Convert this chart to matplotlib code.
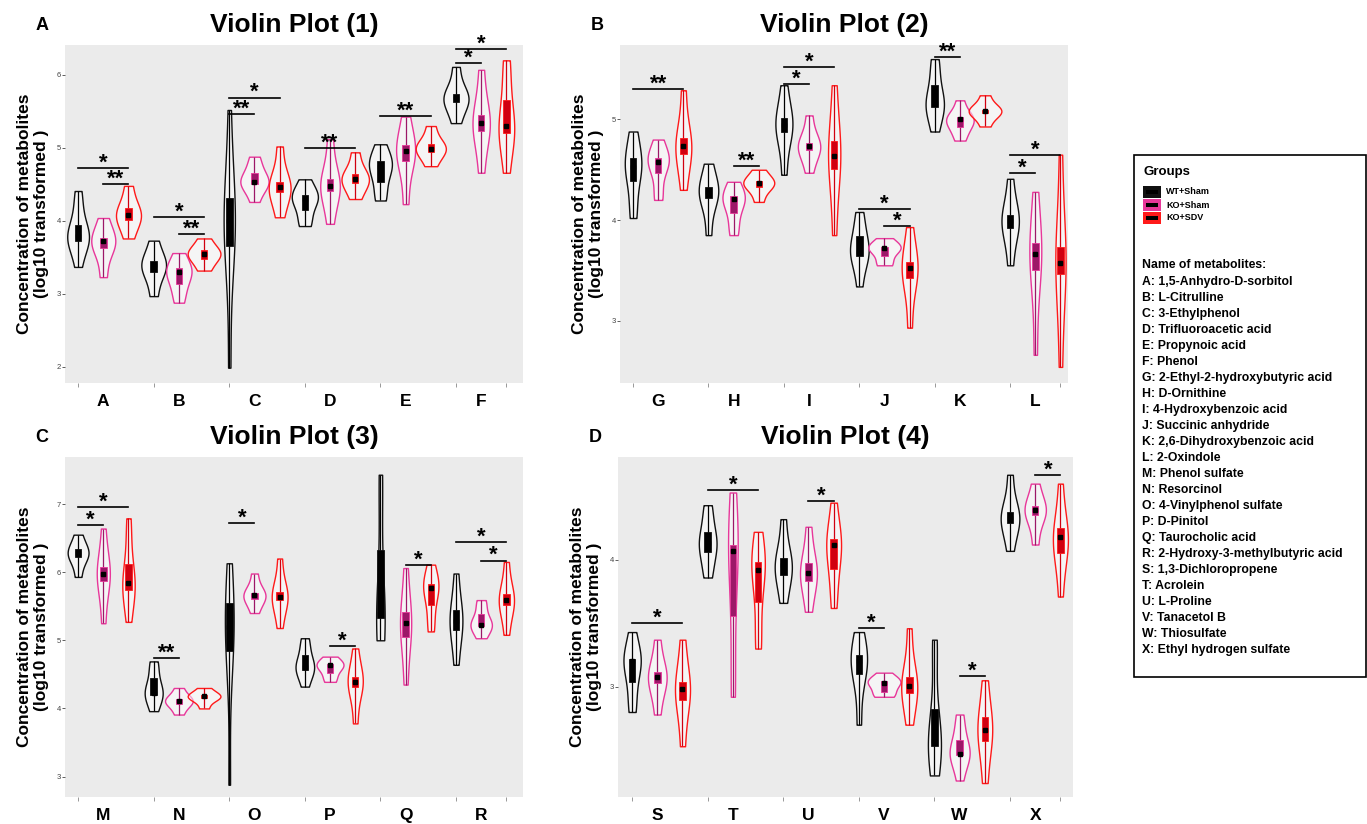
import numpy as np
import matplotlib
matplotlib.use('Agg')
from matplotlib import pyplot as plt
from matplotlib import cbook, mlab
from matplotlib.patches import Rectangle

plt.rcParams['font.family'] = ['Liberation Sans', 'DejaVu Sans']

groups = ['WT+Sham', 'KO+Sham', 'KO+SDV']
line_colors = ['#111111', '#e8379a', '#ff1a1a']
box_colors = ['#000000', '#9c1868', '#d00010']

names = ['1,5-Anhydro-D-sorbitol', 'L-Citrulline', '3-Ethylphenol', 'Trifluoroacetic acid',
         'Propynoic acid', 'Phenol', '2-Ethyl-2-hydroxybutyric acid', 'D-Ornithine',
         '4-Hydroxybenzoic acid', 'Succinic anhydride', '2,6-Dihydroxybenzoic acid', '2-Oxindole',
         'Phenol sulfate', 'Resorcinol', '4-Vinylphenol sulfate', 'D-Pinitol', 'Taurocholic acid',
         '2-Hydroxy-3-methylbutyric acid', '1,3-Dichloropropene', 'Acrolein', 'L-Proline',
         'Tanacetol B', 'Thiosulfate', 'Ethyl hydrogen sulfate']
letters = [chr(ord('A') + i) for i in range(24)]

# log10 concentrations, one list per metabolite
p1_wt = [[3.37, 3.68, 3.74, 3.78, 3.82, 3.87, 4.18, 4.41],
         [2.97, 3.28, 3.37, 3.42, 3.46, 3.73],
         [1.99, 3.52, 3.7, 3.9, 4.1, 4.23, 4.54, 5.52],
         [3.93, 4.03, 4.28, 4.3, 4.33, 4.39, 4.57],
         [4.28, 4.39, 4.68, 4.74, 4.8, 4.84, 5.05],
         [5.34, 5.61, 5.66, 5.7, 5.75, 6.11]]
p1_ko = [[3.23, 3.6, 3.7, 3.74, 3.78, 4.04],
         [2.88, 3.04, 3.22, 3.3, 3.32, 3.39, 3.56],
         [4.26, 4.48, 4.52, 4.53, 4.57, 4.73, 4.88],
         [3.96, 4.39, 4.47, 4.48, 4.61, 5.12],
         [4.23, 4.8, 4.9, 5.02, 5.05, 5.43],
         [4.66, 5.21, 5.3, 5.37, 5.48, 6.07]]
p1_sdv = [[3.76, 3.99, 4.06, 4.1, 4.2, 4.48],
          [3.32, 3.46, 3.54, 3.56, 3.61, 3.76],
          [4.05, 4.37, 4.45, 4.48, 4.55, 5.02],
          [4.3, 4.5, 4.57, 4.58, 4.66, 4.94],
          [4.75, 4.94, 4.98, 5.0, 5.07, 5.3],
          [4.66, 5.18, 5.23, 5.3, 5.36, 5.95, 6.2]]

p2_wt = [[4.02, 4.15, 4.47, 4.52, 4.53, 4.57, 4.76, 4.88],
         [3.85, 4.2, 4.27, 4.28, 4.35, 4.56],
         [4.45, 4.86, 4.93, 4.95, 5.04, 5.34],
         [3.34, 3.62, 3.67, 3.68, 3.75, 3.93, 4.08],
         [4.88, 5.09, 5.15, 5.16, 5.21, 5.47, 5.6],
         [3.55, 3.9, 3.98, 4.0, 4.07, 4.41]]
p2_ko = [[4.2, 4.27, 4.54, 4.57, 4.58, 4.6, 4.68, 4.8],
         [3.85, 3.97, 4.17, 4.21, 4.22, 4.25, 4.38],
         [4.47, 4.68, 4.73, 4.74, 4.78, 5.04],
         [3.55, 3.58, 3.7, 3.72, 3.73, 3.74, 3.82],
         [4.79, 4.88, 4.97, 5.0, 5.01, 5.03, 5.19],
         [2.66, 3.47, 3.62, 3.7, 3.8, 4.28]]
p2_sdv = [[4.3, 4.63, 4.73, 4.74, 4.84, 5.29],
          [4.18, 4.32, 4.36, 4.37, 4.4, 4.5],
          [3.85, 4.46, 4.63, 4.65, 4.83, 5.34],
          [2.93, 3.4, 3.5, 3.54, 3.6, 3.93],
          [4.93, 5.06, 5.08, 5.09, 5.1, 5.24],
          [2.54, 3.44, 3.55, 3.6, 3.77, 4.65]]

p3_wt = [[5.93, 6.2, 6.27, 6.28, 6.35, 6.55],
         [3.96, 4.18, 4.22, 4.23, 4.3, 4.58, 4.69],
         [2.88, 4.7, 4.9, 5.1, 5.3, 5.5, 5.71, 6.13],
         [4.32, 4.54, 4.6, 4.61, 4.66, 4.9, 5.03],
         [5.0, 5.3, 5.35, 5.38, 5.49, 7.16, 7.43],
         [4.64, 5.1, 5.28, 5.3, 5.49, 5.98]]
p3_ko = [[5.25, 5.84, 5.97, 5.98, 6.1, 6.64],
         [3.91, 4.06, 4.1, 4.13, 4.14, 4.3],
         [5.4, 5.6, 5.65, 5.67, 5.71, 5.98],
         [4.39, 4.46, 4.59, 4.63, 4.64, 4.67, 4.76],
         [4.35, 5.0, 5.2, 5.3, 5.45, 6.06],
         [5.03, 5.2, 5.23, 5.23, 5.26, 5.5, 5.59]]
p3_sdv = [[5.27, 5.6, 5.79, 5.84, 5.85, 5.99, 6.5, 6.79],
          [4.0, 4.14, 4.17, 4.18, 4.2, 4.3],
          [5.18, 5.57, 5.63, 5.64, 5.74, 6.2],
          [3.78, 4.3, 4.38, 4.39, 4.49, 4.88],
          [5.13, 5.32, 5.71, 5.77, 5.79, 5.86, 6.11],
          [5.08, 5.49, 5.58, 5.59, 5.7, 6.15]]

p4_wt = [[2.8, 2.92, 3.16, 3.2, 3.2, 3.24, 3.43],
         [3.86, 3.94, 4.1, 4.13, 4.14, 4.17, 4.36, 4.43],
         [3.66, 3.86, 3.95, 3.96, 4.03, 4.32],
         [2.7, 3.08, 3.17, 3.24, 3.25, 3.43],
         [2.3, 2.5, 2.54, 2.55, 2.59, 2.68, 3.25, 3.37],
         [4.07, 4.28, 4.33, 4.33, 4.39, 4.67]]
p4_ko = [[2.78, 3.01, 3.07, 3.08, 3.13, 3.37],
         [2.92, 3.13, 3.99, 4.07, 4.08, 4.16, 4.53],
         [3.59, 3.82, 3.87, 3.92, 3.99, 4.26],
         [2.92, 2.93, 2.97, 3.02, 3.04, 3.04, 3.06, 3.11],
         [2.26, 2.45, 2.47, 2.47, 2.5, 2.66, 2.78],
         [4.12, 4.34, 4.39, 4.39, 4.43, 4.6]]
p4_sdv = [[2.53, 2.87, 2.96, 3.0, 3.05, 3.37],
          [3.3, 3.43, 3.9, 3.92, 3.96, 4.0, 4.22],
          [3.62, 3.82, 4.04, 4.12, 4.13, 4.2, 4.45],
          [2.7, 2.93, 3.0, 3.01, 3.1, 3.46],
          [2.24, 2.54, 2.65, 2.66, 2.79, 3.05],
          [3.71, 4.0, 4.1, 4.18, 4.2, 4.3, 4.6]]

# significance: (metabolite index, group a, group b, bar height, stars)
p1_sig = [(0, 0, 2, 4.73, '*'), (0, 1, 2, 4.51, '**'), (1, 0, 2, 4.05, '*'), (1, 1, 2, 3.82, '**'),
          (2, 0, 2, 5.69, '*'), (2, 0, 1, 5.47, '**'), (3, 0, 2, 5.0, '**'), (4, 0, 2, 5.44, '**'),
          (5, 0, 2, 6.36, '*'), (5, 0, 1, 6.16, '*')]
p2_sig = [(0, 0, 2, 5.3, '**'), (1, 1, 2, 4.54, '**'), (2, 0, 2, 5.52, '*'), (2, 0, 1, 5.35, '*'),
          (3, 0, 2, 4.11, '*'), (3, 1, 2, 3.94, '*'), (4, 0, 1, 5.62, '**'), (5, 0, 2, 4.65, '*'),
          (5, 0, 1, 4.47, '*')]
p3_sig = [(0, 0, 2, 6.95, '*'), (0, 0, 1, 6.69, '*'), (1, 0, 1, 4.74, '**'), (2, 0, 1, 6.72, '*'),
          (3, 1, 2, 4.91, '*'), (4, 1, 2, 6.11, '*'), (5, 0, 2, 6.44, '*'), (5, 1, 2, 6.17, '*')]
p4_sig = [(0, 0, 2, 3.5, '*'), (1, 0, 2, 4.55, '*'), (2, 1, 2, 4.46, '*'), (3, 0, 1, 3.46, '*'),
          (4, 1, 2, 3.08, '*'), (5, 1, 2, 4.67, '*')]

W, H = 1367, 824


def fx(x):
    return x / W


def fy(y):
    return 1 - y / H


def kde(X, coords):
    return mlab.GaussianKDE(X, 'scott').evaluate(coords)


def draw_panel(ax, series, sig, labels, ylim, yticks, xlim):
    data, pos, grp = [], [], []
    for g, s in enumerate(series):
        for m, vals in enumerate(s):
            data.append(np.array(vals))
            pos.append(3 * m + g + 1)
            grp.append(g)
    stats = cbook.violin_stats(data, kde, points=120)
    peak = np.array([s['vals'].max() for s in stats])
    widths = np.clip(1.3 * (peak / peak.max()) ** 0.6, 0.14, None)
    parts = ax.violin(stats, positions=pos, widths=widths, showmeans=False,
                      showextrema=False, showmedians=False)
    for body, g in zip(parts['bodies'], grp):
        body.set_alpha(None)
        body.set_facecolor((1, 1, 1, 0.5))
        body.set_edgecolor(line_colors[g])
        body.set_linewidth(1.0)
        body.set_zorder(2)
    for d, p, g in zip(data, pos, grp):
        q1, med, q3 = np.percentile(d, [25, 50, 75])
        ax.vlines(p, d.min(), d.max(), color=box_colors[g], lw=0.9, zorder=3)
        ax.add_patch(Rectangle((p - 0.13, q1), 0.26, q3 - q1, facecolor=box_colors[g],
                               edgecolor=line_colors[g], lw=0.6, zorder=4))
        ax.plot(p, med, 's', color='black', ms=3.2, zorder=5)
    for m, a, b, y, star in sig:
        xa, xb = 3 * m + a + 1, 3 * m + b + 1
        ax.plot([xa, xb], [y, y], color='black', lw=1.2, zorder=6)
        ax.annotate(star, ((xa + xb) / 2, y), xytext=(0, 3.5), textcoords='offset points',
                    ha='center', va='center', fontsize=16, fontweight='bold', zorder=6)
    ax.set_facecolor('#ebebeb')
    for sp in ax.spines.values():
        sp.set_visible(False)
    ax.set_xlim(*xlim)
    ax.set_ylim(*ylim)
    ax.set_yticks(yticks)
    ax.tick_params(axis='y', labelsize=5.5, length=2, width=0.6, colors='#444444', pad=1)
    ax.set_xticks([2, 5, 8, 11, 14, 17])
    ax.set_xticklabels(labels, fontsize=12.5, fontweight='bold')
    ax.tick_params(axis='x', length=0, pad=8)
    ax.set_xticks([1, 4, 7, 10, 13, 16, 18], minor=True)
    ax.tick_params(axis='x', which='minor', length=3, width=0.6, colors='#888888')


fig = plt.figure(figsize=(W / 100, H / 100), dpi=100)

panels = [
    ((65, 45, 523, 383), (p1_wt, p1_ko, p1_sdv), p1_sig, letters[0:6], (1.78, 6.41), [2, 3, 4, 5, 6], (0.48, 18.66), 'A', 'Violin Plot (1)'),
    ((620, 45, 1068, 383), (p2_wt, p2_ko, p2_sdv), p2_sig, letters[6:12], (2.38, 5.74), [3, 4, 5], (0.48, 18.3), 'B', 'Violin Plot (2)'),
    ((65, 457, 523, 797), (p3_wt, p3_ko, p3_sdv), p3_sig, letters[12:18], (2.70, 7.69), [3, 4, 5, 6, 7], (0.48, 18.66), 'C', 'Violin Plot (3)'),
    ((618, 457, 1073, 797), (p4_wt, p4_ko, p4_sdv), p4_sig, letters[18:24], (2.13, 4.81), [3, 4], (0.44, 18.5), 'D', 'Violin Plot (4)'),
]

for (x0, y0, x1, y1), series, sig, labels, ylim, yticks, xlim, tag, title in panels:
    ax = fig.add_axes([fx(x0), fy(y1), (x1 - x0) / W, (y1 - y0) / H])
    draw_panel(ax, series, sig, labels, ylim, yticks, xlim)
    fig.text(fx((x0 + x1) / 2), fy(y0 - 20), title, ha='center', va='center',
             fontsize=19, fontweight='bold')
    fig.text(fx(x0 - 23), fy(y0 - 20), tag, ha='center', va='center',
             fontsize=13, fontweight='bold')
    fig.text(fx(x0 - 32), fy((y0 + y1) / 2), 'Concentration of metabolites\n(log10 transformed )',
             rotation=90, ha='center', va='center', multialignment='center',
             fontsize=12.5, fontweight='bold', linespacing=1.1)

# legend box
fig.patches.append(Rectangle((fx(1134), fy(677)), (1366 - 1134) / W, (677 - 155) / H,
                             transform=fig.transFigure, facecolor='white',
                             edgecolor='black', lw=1.2))
fig.text(fx(1143), fy(172), 'Groups', ha='left', va='center', fontsize=9.5, fontweight='bold')
for i, g in enumerate(groups):
    yc = 192 + i * 13
    fig.patches.append(Rectangle((fx(1143), fy(yc + 6)), 18 / W, 12 / H,
                                 transform=fig.transFigure, facecolor=line_colors[i],
                                 edgecolor='none'))
    fig.patches.append(Rectangle((fx(1146), fy(yc + 2)), 12 / W, 4 / H,
                                 transform=fig.transFigure, facecolor='black',
                                 edgecolor='none'))
    fig.text(fx(1166), fy(yc), g, ha='left', va='center', fontsize=6.5, fontweight='bold')
fig.text(fx(1142), fy(265), 'Name of metabolites:', ha='left', va='center',
         fontsize=8.8, fontweight='bold')
for i, (l, n) in enumerate(zip(letters, names)):
    fig.text(fx(1142), fy(282 + i * 16.0), '{}: {}'.format(l, n), ha='left', va='center',
             fontsize=8.8, fontweight='bold')

fig.savefig('out.png', dpi=100)
